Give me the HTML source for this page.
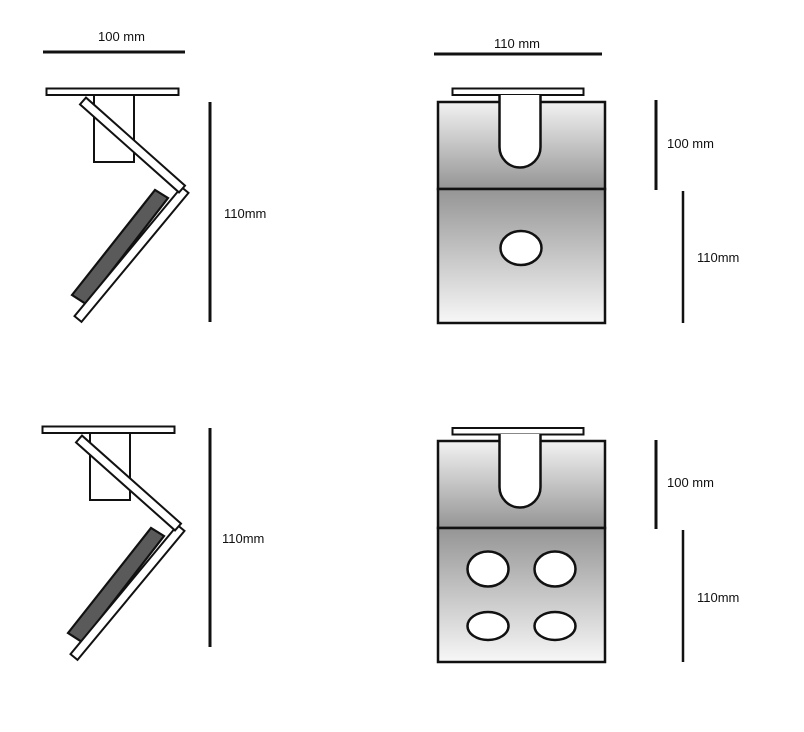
<!DOCTYPE html>
<html><head><style>body{margin:0;background:#fff}svg{display:block}text{font-family:"Liberation Sans",sans-serif;font-size:13px;fill:#111}</style></head>
<body>
<svg width="804" height="732" viewBox="0 0 804 732" xmlns="http://www.w3.org/2000/svg">
<defs>
<linearGradient id="gt" x1="0" y1="0" x2="0" y2="1"><stop offset="0" stop-color="#f2f2f2"/><stop offset="1" stop-color="#959595"/></linearGradient>
<linearGradient id="gb" x1="0" y1="0" x2="0" y2="1"><stop offset="0" stop-color="#959595"/><stop offset="1" stop-color="#f7f7f7"/></linearGradient>
<g id="side">
<rect x="46.5" y="88.5" width="132" height="6.5" fill="#fff" stroke="#111" stroke-width="2"/>
<rect x="94" y="95" width="40" height="67" fill="#fff" stroke="#111" stroke-width="2"/>
<polygon points="72,295 155,190 168,198 86,304" fill="#5a5a5a" stroke="#111" stroke-width="2.2"/>
<polygon points="181.5,187.1 188.5,192.9 81.5,321.9 74.5,316.1" fill="#fff" stroke="#111" stroke-width="2"/>
<polygon points="80,104.4 86,97.6 185,185.6 179,192.4" fill="#fff" stroke="#111" stroke-width="2"/>
</g>
</defs>
<text x="98" y="41">100 mm</text>
<line x1="43" y1="52" x2="185" y2="52" stroke="#111" stroke-width="3"/>
<text x="494" y="48">110 mm</text>
<line x1="434" y1="54" x2="602" y2="54" stroke="#111" stroke-width="3"/>

<use href="#side"/>
<line x1="210" y1="102" x2="210" y2="322" stroke="#111" stroke-width="3"/>
<text x="224" y="218">110mm</text>

<use href="#side" transform="translate(-4,338)"/>
<line x1="210" y1="428" x2="210" y2="647" stroke="#111" stroke-width="3"/>
<text x="222" y="543">110mm</text>

<rect x="452.5" y="88.5" width="131" height="6.5" fill="#fff" stroke="#111" stroke-width="2"/>
<rect x="438" y="102" width="167" height="87" fill="url(#gt)" stroke="#111" stroke-width="2.5"/>
<rect x="438" y="189" width="167" height="134" fill="url(#gb)" stroke="#111" stroke-width="2.5"/>
<path d="M499.5 95 V147 A20.5 20.5 0 0 0 540.5 147 V95" fill="#fff" stroke="#111" stroke-width="2.5"/>
<ellipse cx="521" cy="248" rx="20.5" ry="17" fill="#fff" stroke="#111" stroke-width="2.5"/>
<line x1="656" y1="100" x2="656" y2="190" stroke="#111" stroke-width="3"/>
<text x="667" y="148">100 mm</text>
<line x1="683" y1="191" x2="683" y2="323" stroke="#111" stroke-width="2.5"/>
<text x="697" y="262">110mm</text>

<rect x="452.5" y="428" width="131" height="6.5" fill="#fff" stroke="#111" stroke-width="2"/>
<rect x="438" y="441" width="167" height="87" fill="url(#gt)" stroke="#111" stroke-width="2.5"/>
<rect x="438" y="528" width="167" height="134" fill="url(#gb)" stroke="#111" stroke-width="2.5"/>
<path d="M499.5 434 V487 A20.5 20.5 0 0 0 540.5 487 V434" fill="#fff" stroke="#111" stroke-width="2.5"/>
<ellipse cx="488" cy="569" rx="20.5" ry="17.5" fill="#fff" stroke="#111" stroke-width="2.5"/>
<ellipse cx="555" cy="569" rx="20.5" ry="17.5" fill="#fff" stroke="#111" stroke-width="2.5"/>
<ellipse cx="488" cy="626" rx="20.5" ry="14" fill="#fff" stroke="#111" stroke-width="2.5"/>
<ellipse cx="555" cy="626" rx="20.5" ry="14" fill="#fff" stroke="#111" stroke-width="2.5"/>
<line x1="656" y1="440" x2="656" y2="529" stroke="#111" stroke-width="3"/>
<text x="667" y="487">100 mm</text>
<line x1="683" y1="530" x2="683" y2="662" stroke="#111" stroke-width="2.5"/>
<text x="697" y="602">110mm</text>
</svg>
</body></html>
